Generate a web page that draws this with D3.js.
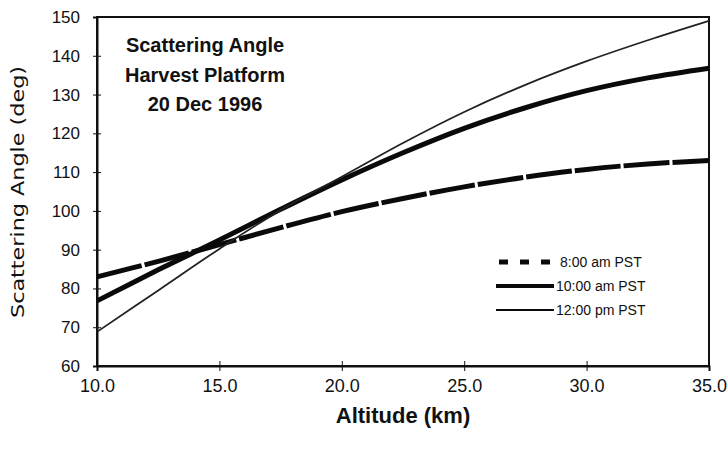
<!DOCTYPE html>
<html lang="en">
<head>
    <meta charset="UTF-8">
    <script src="https://d3js.org/d3.v7.min.js"></script>
    <title>Scattering Angle</title>
    <style>
    body { margin: 0; background: #fff; }
    text { font-family: "Liberation Sans", Arial, sans-serif; fill: #111; }
    </style>
</head>
<body>
    <div class="content"></div>
    <script>
    var altitudes = [10, 12.5, 15, 17.5, 20, 22.5, 25, 27.5, 30, 32.5, 35];
    // scattering angle (deg)
    var am8 = [83, 87, 91.3, 95.7, 99.8, 103.2, 106.2, 108.7, 110.7, 112.1, 113];
    var am10 = [76.8, 84.8, 92.5, 100.4, 108, 115, 121.3, 126.6, 131, 134.3, 136.8];
    var pm12 = [68.8, 79.5, 90.2, 100.2, 108.8, 117.5, 125.5, 132.5, 138.6, 144, 149];
    var seriesNames = ['8:00 am PST', '10:00 am PST', '12:00 pm PST'];
    var xTicks = [10, 15, 20, 25, 30, 35];
    var yTicks = [60, 70, 80, 90, 100, 110, 120, 130, 140, 150];
    var titleLines = ['Scattering Angle', 'Harvest Platform', '20 Dec 1996'];

    var p = {
        width: 728,
        height: 455,
        left: 97,
        right: 709,
        top: 17,
        bottom: 366
    };

    var svg = d3.select('.content')
        .append('svg')
        .attr('width', p.width)
        .attr('height', p.height);

    var x = d3.scaleLinear().domain([10, 35]).range([p.left, p.right]);
    var y = d3.scaleLinear().domain([60, 150]).range([p.bottom, p.top]);

    //khung
    svg.append('rect')
        .attr('x', p.left)
        .attr('y', p.top)
        .attr('width', p.right - p.left)
        .attr('height', p.bottom - p.top)
        .attr('fill', 'none')
        .attr('stroke', '#111')
        .attr('stroke-width', 2);

    //truc y
    var yAxis = svg.append('g')
        .attr('transform', 'translate(' + p.left + ',0)')
        .call(d3.axisLeft(y).tickValues(yTicks).tickSize(4).tickPadding(13).tickFormat(d3.format('d')));
    yAxis.select('.domain').attr('stroke', '#111').attr('stroke-width', 2);
    yAxis.selectAll('.tick line').attr('x1', 4).attr('stroke', '#111');
    yAxis.selectAll('.tick text')
        .style('font-size', '17px')
        .attr('fill', '#111');

    //truc x
    var xAxis = svg.append('g')
        .attr('transform', 'translate(0,' + p.bottom + ')')
        .call(d3.axisBottom(x).tickValues(xTicks).tickSize(5).tickPadding(8).tickFormat(d3.format('.1f')));
    xAxis.select('.domain').attr('stroke', '#111').attr('stroke-width', 2);
    xAxis.selectAll('.tick line').attr('y1', -5).attr('stroke', '#111');
    xAxis.selectAll('.tick text')
        .style('font-size', '18px')
        .attr('fill', '#111');

    //duong cong
    var line = d3.line()
        .x(function(d) { return x(d[0]); })
        .y(function(d) { return y(d[1]); })
        .curve(d3.curveCatmullRom);

    var styles = [
        { width: 5, dash: '46,3' },
        { width: 5, dash: null },
        { width: 1.8, dash: null }
    ];
    [am8, am10, pm12].forEach(function(vals, i) {
        svg.append('path')
            .datum(altitudes.map(function(a, j) { return [a, vals[j]]; }))
            .attr('d', line)
            .attr('fill', 'none')
            .attr('stroke', i === 2 ? '#222' : '#0a0a0a')
            .attr('stroke-width', styles[i].width)
            .attr('stroke-dasharray', styles[i].dash);
    });

    //tieu de
    svg.append('g').selectAll('text')
        .data(titleLines)
        .enter()
        .append('text')
        .attr('x', 205)
        .attr('y', function(d, i) { return 52 + i * 29.5; })
        .attr('text-anchor', 'middle')
        .style('font-size', '20px')
        .style('font-weight', 'bold')
        .text(function(d) { return d; });

    //chu thich
    var legend = svg.append('g');
    seriesNames.forEach(function(name, i) {
        var ly = 262 + i * 24;
        legend.append('line')
            .attr('x1', i === 0 ? 499 : 496)
            .attr('x2', 554)
            .attr('y1', ly)
            .attr('y2', ly)
            .attr('stroke', '#0a0a0a')
            .attr('stroke-width', i === 2 ? 1.8 : (i === 0 ? 5 : 4))
            .attr('stroke-dasharray', i === 0 ? '9,12' : null);
        legend.append('text')
            .attr('x', i === 0 ? 560 : 556)
            .attr('y', ly + 5)
            .style('font-size', '14px')
            .text(name);
    });

    //nhan truc
    svg.append('text')
        .attr('x', 403)
        .attr('y', 423)
        .attr('text-anchor', 'middle')
        .style('font-size', '22px')
        .style('font-weight', 'bold')
        .text('Altitude (km)');

    svg.append('text')
        .attr('transform', 'translate(24,192) rotate(-90)')
        .attr('text-anchor', 'middle')
        .attr('textLength', 252)
        .attr('lengthAdjust', 'spacingAndGlyphs')
        .style('font-family', '"DejaVu Sans Condensed", "DejaVu Sans", sans-serif')
        .style('font-weight', 300)
        .style('font-size', '18px')
        .text('Scattering Angle (deg)');
    </script>
</body>
</html>
